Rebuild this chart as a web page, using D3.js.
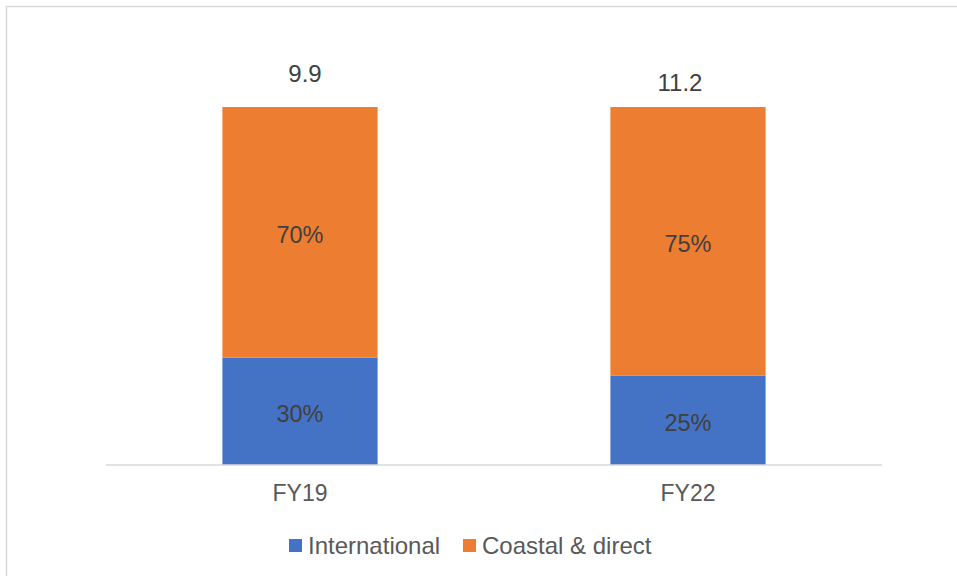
<!DOCTYPE html>
<html><head><meta charset="utf-8">
<script src="https://cdn.jsdelivr.net/npm/d3@7"></script>
<style>body{margin:0;background:#fff}svg{display:block}</style>
</head><body>
<svg id="c" width="957" height="576"></svg>
<script>
const categories = ["FY19", "FY22"];
const seriesNames = ["International", "Coastal & direct"];
const international = [30, 25];
const coastal = [70, 75];
const totals = ["9.9", "11.2"];

const colors = ["#4472C4", "#ED7D31"];
const svg = d3.select("#c");
const font = "Liberation Sans, Arial, sans-serif";

svg.append("rect").attr("x", 6.5).attr("y", 6.5).attr("width", 960).attr("height", 580)
  .attr("fill", "#fff").attr("stroke", "#d9d9d9").attr("stroke-width", 1.5);

const x = d3.scaleBand().domain(categories).range([106, 882]).paddingInner(0.6).paddingOuter(0.3);
const y = d3.scaleLinear().domain([0, 100]).range([465, 107]);

const rows = categories.map((c, i) => ({cat: c, International: international[i], "Coastal & direct": coastal[i]}));
const stack = d3.stack().keys(seriesNames)(rows);

const g = svg.append("g");
stack.forEach((s, si) => {
  g.selectAll(null).data(s).enter().append("rect")
    .attr("x", d => x(d.data.cat)).attr("width", x.bandwidth())
    .attr("y", d => y(d[1])).attr("height", d => y(d[0]) - y(d[1]))
    .attr("fill", colors[si]);
  g.selectAll(null).data(s).enter().append("text")
    .attr("x", d => x(d.data.cat) + x.bandwidth() / 2)
    .attr("y", d => (y(d[0]) + y(d[1])) / 2)
    .attr("dy", "0.44em")
    .attr("text-anchor", "middle").attr("font-family", font).attr("font-size", 23.5)
    .attr("fill", "#404040")
    .text(d => d.data[seriesNames[si]] + "%");
});

// axis
const ax = svg.append("g").attr("transform", "translate(0,465)")
  .call(d3.axisBottom(x).tickSize(0).tickPadding(20));
ax.select(".domain").attr("stroke", "#d9d9d9").attr("stroke-width", 1.5).attr("d", "M106,0H882");
ax.selectAll("text").attr("font-family", font).attr("font-size", 23).attr("fill", "#595959");

// totals
const totalDx = [5, -8];
const totalY = [82, 91];
svg.selectAll(null).data(categories).enter().append("text")
  .attr("x", (c, i) => x(c) + x.bandwidth() / 2 + totalDx[i])
  .attr("y", (c, i) => totalY[i]).attr("text-anchor", "middle")
  .attr("font-family", font).attr("font-size", 24).attr("fill", "#404040")
  .text((c, i) => totals[i]);

// legend
const legX = [289, 463];
const leg = svg.append("g");
seriesNames.forEach((n, i) => {
  leg.append("rect").attr("x", legX[i]).attr("y", 539).attr("width", 13).attr("height", 13).attr("fill", colors[i]);
  leg.append("text").attr("x", legX[i] + 19).attr("y", 554)
    .attr("font-family", font).attr("font-size", 24).attr("fill", "#595959").text(n);
});
</script>
</body></html>
